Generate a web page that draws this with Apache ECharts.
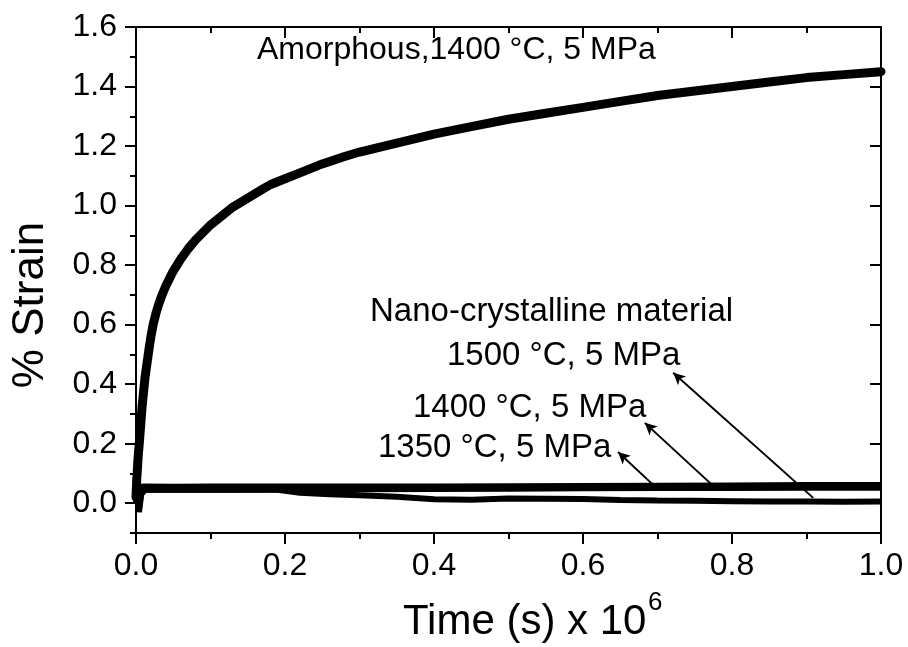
<!DOCTYPE html>
<html>
<head>
<meta charset="utf-8">
<script src="https://cdn.jsdelivr.net/npm/echarts@6/dist/echarts.min.js"></script>
<style>html,body{margin:0;padding:0;background:#fff;}#c{width:908px;height:647px;}</style>
</head>
<body>
<div id="c"></div>
<script>
// ---- data (time in units of 10^6 s, strain in %) ----
const timeAmorphous = [0, 0.001, 0.003, 0.005, 0.008, 0.012, 0.017, 0.02, 0.023, 0.027, 0.03, 0.035, 0.04, 0.05, 0.06, 0.07, 0.08, 0.09, 0.1, 0.11, 0.12, 0.13, 0.14, 0.15, 0.16, 0.17, 0.18, 0.19, 0.2, 0.22, 0.25, 0.28, 0.3, 0.35, 0.4, 0.45, 0.5, 0.55, 0.6, 0.65, 0.7, 0.75, 0.8, 0.85, 0.9, 0.95, 1.0];
const strainAmorphous = [0.02, 0.08, 0.16, 0.22, 0.32, 0.42, 0.51, 0.56, 0.60, 0.64, 0.665, 0.70, 0.73, 0.78, 0.82, 0.855, 0.885, 0.91, 0.935, 0.955, 0.975, 0.995, 1.01, 1.025, 1.04, 1.055, 1.07, 1.08, 1.09, 1.11, 1.14, 1.165, 1.18, 1.21, 1.24, 1.265, 1.29, 1.31, 1.33, 1.35, 1.37, 1.385, 1.40, 1.415, 1.43, 1.44, 1.45];

const time1350 = [0, 0.002, 0.004, 0.007, 0.012, 0.05, 0.1, 0.2, 0.3, 0.4, 0.5, 0.6, 0.7, 0.8, 0.9, 1.0];
const strain1350 = [0.0, 0.065, 0.03, 0.055, 0.056, 0.055, 0.056, 0.056, 0.056, 0.056, 0.057, 0.058, 0.059, 0.06, 0.061, 0.061];

const time1400 = [0, 0.002, 0.004, 0.007, 0.012, 0.05, 0.1, 0.2, 0.3, 0.4, 0.5, 0.6, 0.7, 0.8, 0.9, 1.0];
const strain1400 = [0.0, 0.05, -0.03, 0.03, 0.045, 0.046, 0.045, 0.046, 0.047, 0.048, 0.049, 0.05, 0.051, 0.051, 0.052, 0.052];

const time1500 = [0, 0.002, 0.004, 0.007, 0.012, 0.05, 0.1, 0.15, 0.19, 0.22, 0.26, 0.3, 0.35, 0.4, 0.45, 0.5, 0.55, 0.6, 0.65, 0.7, 0.75, 0.8, 0.85, 0.9, 0.95, 1.0];
const strain1500 = [0.0, 0.04, -0.02, 0.035, 0.045, 0.046, 0.045, 0.046, 0.045, 0.035, 0.03, 0.027, 0.022, 0.013, 0.012, 0.016, 0.015, 0.014, 0.011, 0.009, 0.008, 0.007, 0.006, 0.006, 0.005, 0.006];

// tick values
const yMajorTicks = [0.0, 0.2, 0.4, 0.6, 0.8, 1.0, 1.2, 1.4, 1.6];
const yMinorTicks = [-0.1, 0.1, 0.3, 0.5, 0.7, 0.9, 1.1, 1.3, 1.5];

// arrow annotations: [fromTime, fromStrain, toTime, toStrain]
const arrow1350 = [0.697, 0.055, 0.647, 0.172];
const arrow1400 = [0.774, 0.060, 0.683, 0.270];
const arrow1500 = [0.909, 0.018, 0.721, 0.438];

// text labels
const labelAmorphous = 'Amorphous,1400 °C, 5 MPa';
const labelNano = 'Nano-crystalline material';
const label1500 = '1500 °C, 5 MPa';
const label1400 = '1400 °C, 5 MPa';
const label1350 = '1350 °C, 5 MPa';
const xTitle = 'Time (s) x 10';
const xTitleExp = '6';
const yTitle = '% Strain';

const FONT = '"Liberation Sans", Arial, Helvetica, sans-serif';
const pairs = (xs, ys) => xs.map((x, i) => [x, ys[i]]);
const arrowSeg = a => [{coord: [a[0], a[1]]}, {coord: [a[2], a[3]]}];

const chart = echarts.init(document.getElementById('c'), null, {renderer: 'canvas'});

const axisLine = {show: true, onZero: false, lineStyle: {color: '#000', width: 2}};
const labelStyle = {color: '#000', fontSize: 32, fontFamily: FONT};

const option = {
  animation: false,
  backgroundColor: '#fff',
  grid: {left: 136, right: 27, top: 27, bottom: 114, containLabel: false},
  xAxis: [
    {
      type: 'value', min: 0, max: 1, interval: 0.2, position: 'bottom',
      axisLine: axisLine,
      axisTick: {show: true, inside: false, length: 11, lineStyle: {color: '#000', width: 2}},
      minorTick: {show: true, splitNumber: 2, length: 6, lineStyle: {color: '#000', width: 2}},
      axisLabel: Object.assign({margin: 17, formatter: v => v.toFixed(1)}, labelStyle),
      splitLine: {show: false}, minorSplitLine: {show: false}
    },
    {
      type: 'value', min: 0, max: 1, interval: 0.2, position: 'top',
      axisLine: axisLine,
      axisTick: {show: true, inside: true, length: 11, lineStyle: {color: '#000', width: 2}},
      minorTick: {show: true, splitNumber: 2, length: 6, lineStyle: {color: '#000', width: 2}},
      axisLabel: {show: false},
      splitLine: {show: false}
    }
  ],
  yAxis: [
    {
      type: 'value', min: -0.1, max: 1.6, position: 'left',
      axisLine: axisLine,
      axisTick: {show: true, inside: false, length: 11, customValues: yMajorTicks, lineStyle: {color: '#000', width: 2}},
      axisLabel: Object.assign({margin: 19, customValues: yMajorTicks, formatter: v => v.toFixed(1)}, labelStyle),
      splitLine: {show: false}
    },
    {
      type: 'value', min: -0.1, max: 1.6, position: 'left',
      axisLine: {show: false},
      axisTick: {show: true, inside: false, length: 6, customValues: yMinorTicks, lineStyle: {color: '#000', width: 2}},
      axisLabel: {show: false},
      splitLine: {show: false}
    },
    {
      type: 'value', min: -0.1, max: 1.6, position: 'right',
      axisLine: axisLine,
      axisTick: {show: true, inside: true, length: 11, customValues: yMajorTicks, lineStyle: {color: '#000', width: 2}},
      axisLabel: {show: false},
      splitLine: {show: false}
    },
    {
      type: 'value', min: -0.1, max: 1.6, position: 'right',
      axisLine: {show: false},
      axisTick: {show: true, inside: true, length: 6, customValues: yMinorTicks, lineStyle: {color: '#000', width: 2}},
      axisLabel: {show: false},
      splitLine: {show: false}
    }
  ],
  series: [
    {
      name: '1500', type: 'line', xAxisIndex: 0, yAxisIndex: 0, showSymbol: false,
      data: pairs(time1500, strain1500), lineStyle: {color: '#000', width: 6}, z: 3
    },
    {
      name: '1400', type: 'line', xAxisIndex: 0, yAxisIndex: 0, showSymbol: false,
      data: pairs(time1400, strain1400), lineStyle: {color: '#000', width: 6}, z: 3
    },
    {
      name: '1350', type: 'line', xAxisIndex: 0, yAxisIndex: 0, showSymbol: false,
      data: pairs(time1350, strain1350), lineStyle: {color: '#000', width: 6}, z: 3
    },
    {
      name: 'Amorphous', type: 'line', xAxisIndex: 0, yAxisIndex: 0, showSymbol: false,
      data: pairs(timeAmorphous, strainAmorphous), lineStyle: {color: '#000', width: 9, join: 'round', cap: 'round'}, z: 4,
      markLine: {
        silent: true, animation: false,
        symbol: ['none', 'arrow'], symbolSize: [9, 12],
        label: {show: false},
        lineStyle: {color: '#000', width: 2, type: 'solid'},
        data: [arrowSeg(arrow1350), arrowSeg(arrow1400), arrowSeg(arrow1500)]
      }
    }
  ],
  graphic: [
    {type: 'text', left: 257, top: 34, style: {text: labelAmorphous, fill: '#000', font: '32px ' + FONT}},
    {type: 'text', left: 370, top: 295, style: {text: labelNano, fill: '#000', font: '33px ' + FONT}},
    {type: 'text', left: 447, top: 339, style: {text: label1500, fill: '#000', font: '33px ' + FONT}},
    {type: 'text', left: 413, top: 391, style: {text: label1400, fill: '#000', font: '33px ' + FONT}},
    {type: 'text', left: 378, top: 431, style: {text: label1350, fill: '#000', font: '33px ' + FONT}},
    {type: 'text', left: 403, top: 601, style: {text: xTitle, fill: '#000', font: '42px ' + FONT}},
    {type: 'text', left: 648, top: 590, style: {text: xTitleExp, fill: '#000', font: '26px ' + FONT}},
    {type: 'text', x: 31, y: 305, rotation: Math.PI / 2,
      style: {text: yTitle, fill: '#000', font: '44px ' + FONT, align: 'center', verticalAlign: 'middle'}}
  ]
};
chart.setOption(option);
</script>
</body>
</html>
